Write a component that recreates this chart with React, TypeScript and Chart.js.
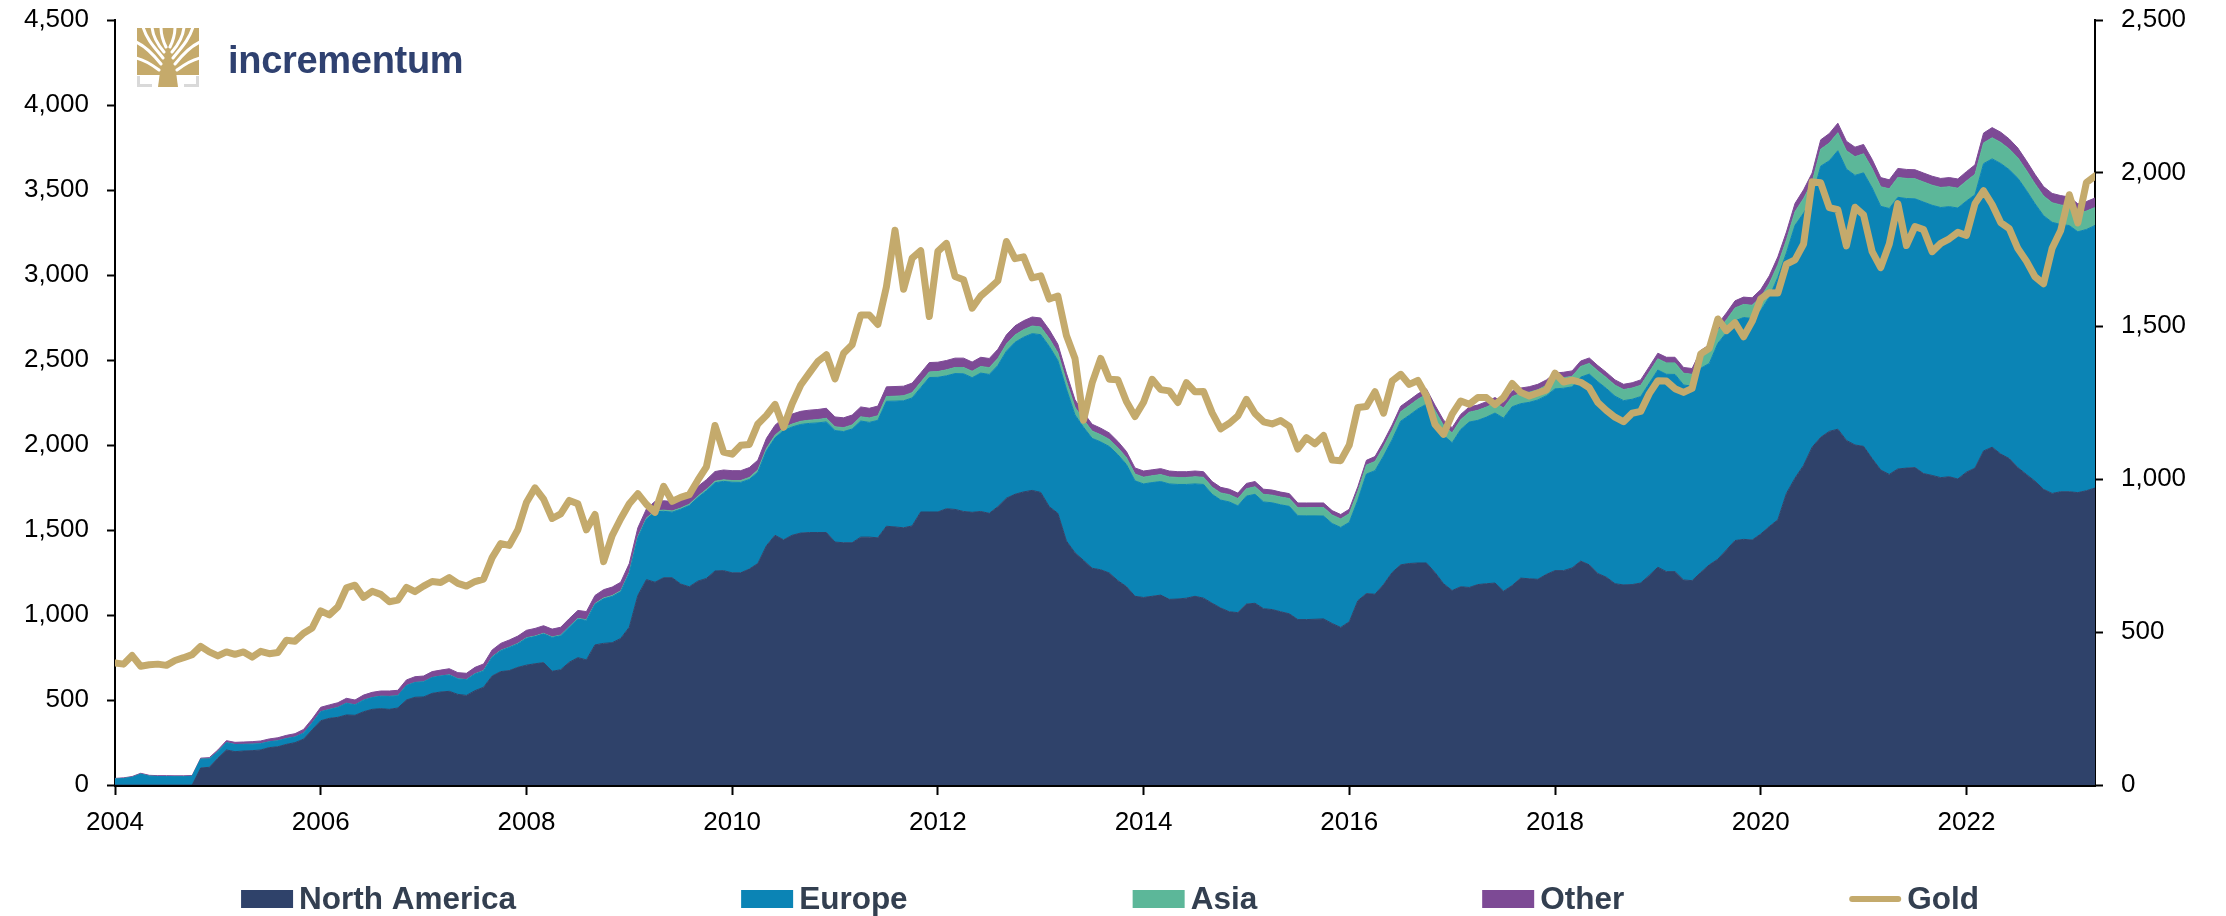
import React, { useEffect, useRef } from 'react';
import { Chart, registerables } from 'chart.js';

Chart.register(...registerables);

// ---------- data (monthly, Jan 2004 – Apr 2023) ----------
const START_YEAR = 2004;
const YEAR_TICKS = [2004, 2006, 2008, 2010, 2012, 2014, 2016, 2018, 2020, 2022];
const SERIES_NAMES = ['North America', 'Europe', 'Asia', 'Other', 'Gold'];

// ETF holdings, tonnes (left axis)
const NORTH_AMERICA = [
  0, 0, 0, 0, 0, 0, 0, 0, 0, 0, 100, 104,
  157, 206, 196, 200, 202, 206, 220, 225, 239, 249, 270, 324,
  378, 392, 398, 412, 410, 431, 445, 449, 445, 453, 500, 516,
  518, 539, 547, 551, 533, 527, 555, 575, 641, 667, 673, 692,
  705, 713, 720, 669, 678, 722, 749, 736, 824, 833, 837, 862,
  928, 1115, 1208, 1193, 1219, 1219, 1182, 1166, 1199, 1215, 1259, 1261,
  1248, 1248, 1270, 1303, 1407, 1469, 1442, 1469, 1482, 1485, 1485, 1485,
  1429, 1425, 1425, 1458, 1458, 1454, 1522, 1518, 1513, 1524, 1606, 1606,
  1606, 1625, 1621, 1609, 1604, 1609, 1598, 1637, 1687, 1710, 1724, 1733,
  1721, 1637, 1598, 1435, 1366, 1321, 1275, 1266, 1247, 1202, 1167, 1110,
  1103, 1110, 1117, 1092, 1094, 1099, 1110, 1099, 1069, 1041, 1019, 1014,
  1064, 1069, 1037, 1032, 1019, 1007, 973, 973, 975, 977, 950, 927,
  960, 1084, 1126, 1122, 1179, 1250, 1295, 1303, 1306, 1306, 1250, 1184,
  1144, 1166, 1162, 1179, 1184, 1188, 1140, 1173, 1217, 1213, 1210, 1239,
  1261, 1261, 1277, 1317, 1295, 1244, 1222, 1184, 1177, 1179, 1188, 1233,
  1281, 1255, 1255, 1206, 1202, 1250, 1295, 1328, 1383, 1438, 1445, 1441,
  1476, 1520, 1560, 1715, 1805, 1880, 1987, 2045, 2080, 2093, 2027, 2000,
  1992, 1920, 1853, 1827, 1859, 1864, 1867, 1832, 1821, 1808, 1813, 1800,
  1840, 1864, 1965, 1987, 1947, 1920, 1867, 1827, 1787, 1739, 1715, 1725,
  1725, 1720, 1731, 1747,
];

const EUROPE = [
  35, 38, 45, 64, 52, 50, 50, 49, 49, 51, 52, 49,
  39, 43, 42, 39, 38, 37, 34, 35, 34, 33, 35, 40,
  53, 52, 58, 69, 61, 68, 69, 73, 76, 72, 85, 87,
  89, 93, 94, 96, 91, 92, 98, 96, 111, 123, 136, 138,
  158, 160, 169, 199, 200, 206, 227, 232, 239, 262, 272, 275,
  318, 339, 356, 414, 391, 386, 440, 478, 492, 516, 519, 525,
  533, 532, 527, 537, 559, 573, 643, 637, 639, 642, 645, 651,
  656, 654, 669, 683, 675, 691, 735, 740, 747, 753, 731, 791,
  792, 782, 799, 810, 792, 814, 817, 831, 865, 894, 910, 922,
  928, 943, 899, 894, 811, 783, 764, 752, 744, 741, 718, 679,
  668, 669, 668, 679, 674, 669, 661, 669, 641, 635, 646, 628,
  635, 641, 628, 628, 629, 632, 611, 610, 608, 605, 588, 588,
  585, 592, 703, 727, 756, 781, 845, 872, 906, 934, 895, 873,
  869, 925, 973, 966, 980, 1000, 1018, 1052, 1026, 1038, 1055, 1051,
  1069, 1073, 1065, 1082, 1122, 1128, 1110, 1103, 1084, 1090, 1097, 1130,
  1160, 1161, 1160, 1147, 1144, 1201, 1185, 1270, 1278, 1292, 1305, 1303,
  1315, 1351, 1426, 1415, 1487, 1484, 1466, 1595, 1592, 1638, 1596, 1586,
  1609, 1592, 1551, 1564, 1598, 1586, 1581, 1597, 1589, 1589, 1589, 1594,
  1595, 1608, 1690, 1696, 1709, 1699, 1702, 1670, 1632, 1610, 1595, 1572,
  1566, 1534, 1537, 1544,
];

const ASIA = [
  0, 0, 0, 0, 0, 0, 0, 0, 0, 0, 0, 0,
  0, 0, 0, 0, 0, 0, 0, 0, 0, 0, 0, 0,
  0, 0, 0, 0, 0, 0, 0, 0, 0, 0, 0, 0,
  0, 0, 0, 1, 1, 1, 1, 2, 2, 2, 2, 3,
  3, 3, 3, 3, 4, 4, 4, 4, 4, 5, 5, 5,
  5, 6, 6, 6, 7, 7, 7, 8, 8, 8, 9, 9,
  10, 11, 12, 13, 14, 15, 16, 17, 18, 19, 20, 21,
  22, 23, 24, 25, 26, 27, 28, 29, 30, 31, 32, 33,
  34, 35, 36, 37, 38, 39, 40, 41, 42, 43, 44, 45,
  45, 46, 46, 46, 45, 44, 43, 42, 42, 41, 41, 40,
  40, 40, 41, 41, 41, 41, 42, 42, 42, 42, 43, 43,
  44, 44, 45, 45, 46, 46, 47, 48, 49, 50, 50, 50,
  51, 52, 53, 54, 55, 56, 56, 57, 57, 58, 58, 58,
  58, 58, 58, 59, 59, 59, 60, 60, 60, 60, 60, 61,
  61, 62, 62, 63, 63, 64, 64, 65, 65, 66, 66, 66,
  66, 67, 68, 69, 70, 70, 72, 74, 75, 76, 77, 78,
  78, 78, 75, 76, 80, 86, 94, 100, 104, 106, 108, 110,
  112, 114, 115, 116, 117, 118, 118, 118, 118, 118, 117, 117,
  118, 120, 122, 124, 124, 122, 120, 118, 117, 116, 115, 115,
  113, 110, 108, 106,
];

const OTHER = [
  4, 4, 5, 5, 5, 5, 5, 5, 5, 5, 6, 8,
  10, 12, 13, 14, 15, 16, 17, 18, 19, 20, 22, 24,
  26, 27, 28, 29, 29, 30, 31, 31, 32, 32, 33, 34,
  34, 35, 35, 36, 36, 37, 38, 39, 40, 41, 42, 43,
  44, 45, 45, 46, 46, 47, 47, 48, 48, 49, 50, 51,
  52, 53, 54, 55, 55, 56, 56, 56, 57, 57, 57, 58,
  58, 58, 58, 58, 59, 59, 59, 59, 59, 59, 59, 59,
  58, 58, 58, 58, 57, 57, 57, 57, 56, 56, 55, 55,
  55, 55, 55, 55, 54, 54, 54, 54, 54, 54, 53, 53,
  53, 52, 50, 47, 44, 42, 40, 39, 38, 37, 36, 36,
  36, 35, 35, 35, 34, 34, 34, 33, 33, 33, 32, 32,
  31, 31, 30, 30, 29, 29, 28, 28, 27, 27, 26, 26,
  26, 27, 28, 29, 30, 31, 32, 32, 32, 32, 31, 31,
  31, 31, 31, 31, 32, 32, 32, 32, 32, 32, 32, 32,
  32, 32, 32, 32, 32, 31, 31, 31, 31, 31, 32, 32,
  33, 33, 33, 34, 34, 35, 37, 39, 41, 42, 43, 44,
  45, 46, 46, 47, 49, 51, 53, 55, 56, 56, 56, 56,
  55, 54, 54, 53, 53, 53, 53, 53, 53, 53, 54, 54,
  55, 56, 58, 60, 60, 59, 58, 57, 56, 55, 55, 55,
  55, 55, 56, 56,
];

// Gold price, USD/oz (right axis)
const GOLD = [
  399, 395, 423, 388, 393, 395, 391, 407, 416, 426, 453, 435,
  422, 435, 427, 435, 418, 437, 429, 433, 473, 470, 496, 513,
  569, 556, 582, 644, 653, 613, 633, 623, 599, 604, 646, 632,
  650, 665, 662, 678, 659, 650, 665, 673, 743, 789, 783, 834,
  923, 971, 934, 871, 886, 930, 919, 834, 884, 730, 815, 870,
  919, 952, 917, 891, 976, 927, 940, 949, 996, 1040, 1175, 1088,
  1081, 1110, 1113, 1180, 1208, 1244, 1169, 1246, 1307, 1346, 1384, 1406,
  1327, 1411, 1439, 1536, 1536, 1505, 1628, 1813, 1620, 1722, 1746, 1531,
  1744, 1770, 1662, 1651, 1558, 1598, 1622, 1648, 1776, 1720, 1726, 1657,
  1664, 1588, 1598, 1469, 1394, 1192, 1314, 1394, 1326, 1324, 1253, 1204,
  1251, 1326, 1292, 1288, 1250, 1315, 1285, 1286, 1216, 1164, 1182, 1206,
  1260, 1214, 1187, 1180, 1191, 1172, 1098, 1135, 1115, 1142, 1062, 1060,
  1111, 1234, 1237, 1285, 1215, 1320, 1342, 1309, 1322, 1272, 1178, 1146,
  1212, 1255, 1244, 1266, 1266, 1243, 1267, 1312, 1283, 1271, 1281, 1291,
  1346, 1317, 1323, 1316, 1298, 1250, 1224, 1202, 1187, 1215, 1221, 1279,
  1321, 1320, 1295, 1283, 1296, 1409, 1427, 1523, 1485, 1511, 1465, 1515,
  1589, 1609, 1608, 1702, 1716, 1768, 1971, 1968, 1887, 1880, 1762, 1888,
  1863, 1743, 1691, 1768, 1900, 1763, 1825, 1815, 1743, 1770, 1785, 1806,
  1796, 1900, 1942, 1897, 1838, 1818, 1753, 1712, 1661, 1638, 1754, 1812,
  1929, 1837, 1969, 1990,
];

const MONTHS = GOLD.map((_, i) => START_YEAR + i / 12);

// ---------- styles ----------
const W = 2226;
const H = 916;
const FONT = '"Liberation Sans", Arial, Helvetica, sans-serif';
const COLORS = {
  na: '#2F426A',
  eu: '#0B84B5',
  asia: '#5CB799',
  other: '#7D4A95',
  gold: '#C4AA6C',
};
const TICK_FONT = { family: FONT, size: 26 };

const legendPlugin = {
  id: 'bottomLegend',
  afterDraw(chart: any) {
    const ctx = chart.ctx as CanvasRenderingContext2D;
    ctx.save();
    ctx.font = `bold 31.5px ${FONT}`;
    const items = chart.data.datasets.map((ds: any) => ({
      text: ds.label as string,
      color: ds.borderColor as string,
      isLine: ds.fill === false,
    }));
    const BOX_W = 52;
    const BOX_H = 18;
    const GAP = 6;
    const ITEM_GAP = 225;
    const widths = items.map((it: any) => BOX_W + GAP + ctx.measureText(it.text).width);
    const total = widths.reduce((a: number, b: number) => a + b, 0) + ITEM_GAP * (items.length - 1);
    let x = 1110 - total / 2;
    const cy = 899;
    items.forEach((it: any, k: number) => {
      if (it.isLine) {
        ctx.strokeStyle = it.color;
        ctx.lineWidth = 6;
        ctx.lineCap = 'round';
        ctx.beginPath();
        ctx.moveTo(x + 3, cy);
        ctx.lineTo(x + BOX_W - 3, cy);
        ctx.stroke();
      } else {
        ctx.fillStyle = it.color;
        ctx.fillRect(x, cy - BOX_H / 2, BOX_W, BOX_H);
      }
      ctx.fillStyle = '#333F50';
      ctx.textBaseline = 'middle';
      ctx.textAlign = 'left';
      ctx.fillText(it.text, x + BOX_W + GAP, cy + 1);
      x += widths[k] + ITEM_GAP;
    });
    ctx.restore();
  },
};

function areaDataset(label: string, data: number[], color: string, fill: any) {
  return {
    label,
    data,
    borderColor: color,
    backgroundColor: color,
    borderWidth: 1,
    pointRadius: 0,
    tension: 0,
    fill,
    order: 1,
    yAxisID: 'y',
  };
}

const axisGrid = (tickLength: number) => ({
  display: true,
  drawOnChartArea: false,
  drawTicks: true,
  tickLength,
  tickWidth: 2,
  tickColor: '#000',
  color: '#000',
});

export default function App() {
  const canvasRef = useRef<HTMLCanvasElement>(null);

  useEffect(() => {
    document.body.style.margin = '0';
    const canvas = canvasRef.current;
    if (!canvas) return;
    const chart = new Chart(canvas, {
      type: 'line',
      data: {
        labels: MONTHS,
        datasets: [
          areaDataset(SERIES_NAMES[0], NORTH_AMERICA, COLORS.na, 'origin'),
          areaDataset(SERIES_NAMES[1], EUROPE, COLORS.eu, '-1'),
          areaDataset(SERIES_NAMES[2], ASIA, COLORS.asia, '-1'),
          areaDataset(SERIES_NAMES[3], OTHER, COLORS.other, '-1'),
          {
            label: SERIES_NAMES[4],
            data: GOLD,
            borderColor: COLORS.gold,
            backgroundColor: COLORS.gold,
            borderWidth: 7,
            pointRadius: 0,
            tension: 0,
            fill: false,
            order: 0,
            yAxisID: 'y1',
            borderJoinStyle: 'round',
            borderCapStyle: 'round',
          } as any,
        ],
      },
      options: {
        animation: false,
        responsive: false,
        devicePixelRatio: 1,
        events: [],
        layout: { padding: { top: 20, left: 0, right: 0, bottom: 0 } },
        plugins: {
          legend: { display: false },
          tooltip: { enabled: false },
        },
        scales: {
          x: {
            type: 'linear',
            min: START_YEAR,
            max: START_YEAR + (GOLD.length - 1) / 12,
            afterBuildTicks: (scale: any) => {
              scale.ticks = YEAR_TICKS.map((v) => ({ value: v }));
            },
            afterFit: (scale: any) => {
              scale.height = H - 785;
            },
            ticks: {
              autoSkip: false,
              maxRotation: 0,
              padding: 12,
              color: '#000',
              font: TICK_FONT,
              callback: (v: any) => String(v),
            },
            grid: axisGrid(10),
            border: { display: true, color: '#000', width: 3 },
          },
          y: {
            type: 'linear',
            position: 'left',
            stacked: true,
            min: 0,
            max: 4500,
            afterFit: (scale: any) => {
              scale.width = 115;
              scale.paddingTop = 0;
              scale.paddingBottom = 0;
            },
            ticks: {
              stepSize: 500,
              padding: 18,
              color: '#000',
              font: TICK_FONT,
              callback: (v: any) => Number(v).toLocaleString('en-US'),
            },
            grid: axisGrid(8),
            border: { display: true, color: '#000', width: 2 },
          },
          y1: {
            type: 'linear',
            position: 'right',
            min: 0,
            max: 2500,
            afterFit: (scale: any) => {
              scale.width = W - 2095;
              scale.paddingTop = 0;
              scale.paddingBottom = 0;
            },
            ticks: {
              stepSize: 500,
              padding: 18,
              color: '#000',
              font: TICK_FONT,
              callback: (v: any) => Number(v).toLocaleString('en-US'),
            },
            grid: axisGrid(8),
            border: { display: true, color: '#000', width: 2 },
          },
        },
      } as any,
      plugins: [legendPlugin],
    });
    return () => chart.destroy();
  }, []);

  return (
    <div style={{ position: 'relative', width: W, height: H, background: '#fff' }}>
      <canvas ref={canvasRef} width={W} height={H} style={{ display: 'block', width: W, height: H }} />
      <svg
        width={62}
        height={59}
        viewBox="0 0 62 59"
        style={{ position: 'absolute', left: 137, top: 28 }}
      >
        <rect x={0} y={0} width={62} height={47} fill="#C5AA6B" />
        <path d="M23 44 L39 44 L41 59 L21 59 Z" fill="#C5AA6B" />
        <g stroke="#fff" strokeWidth={3} fill="none" strokeLinecap="round">
          <path d="M6 -1 C10 12, 18 20, 26 30" />
          <path d="M15 -1 C16 10, 21 17, 27 24" />
          <path d="M24 -1 C24 8, 26 13, 29 19" />
          <path d="M38 -1 C38 8, 36 13, 33 19" />
          <path d="M47 -1 C46 10, 41 17, 35 24" />
          <path d="M56 -1 C52 12, 44 20, 36 30" />
          <path d="M-1 14 C8 18, 16 26, 24 36" />
          <path d="M63 14 C54 18, 46 26, 38 36" />
          <path d="M-1 30 C8 32, 14 36, 22 42" />
          <path d="M63 30 C54 32, 48 36, 40 42" />
        </g>
        <path d="M1.5 48 V57.5 H15" stroke="#D9D9D9" strokeWidth={3} fill="none" />
        <path d="M60.5 48 V57.5 H47" stroke="#D9D9D9" strokeWidth={3} fill="none" />
      </svg>
      <div
        style={{
          position: 'absolute',
          left: 228,
          top: 41,
          fontFamily: FONT,
          fontWeight: 'bold',
          fontSize: 38,
          lineHeight: '38px',
          letterSpacing: '-0.3px',
          color: '#2F4170',
          whiteSpace: 'nowrap',
        }}
      >
        incrementum
      </div>
    </div>
  );
}
